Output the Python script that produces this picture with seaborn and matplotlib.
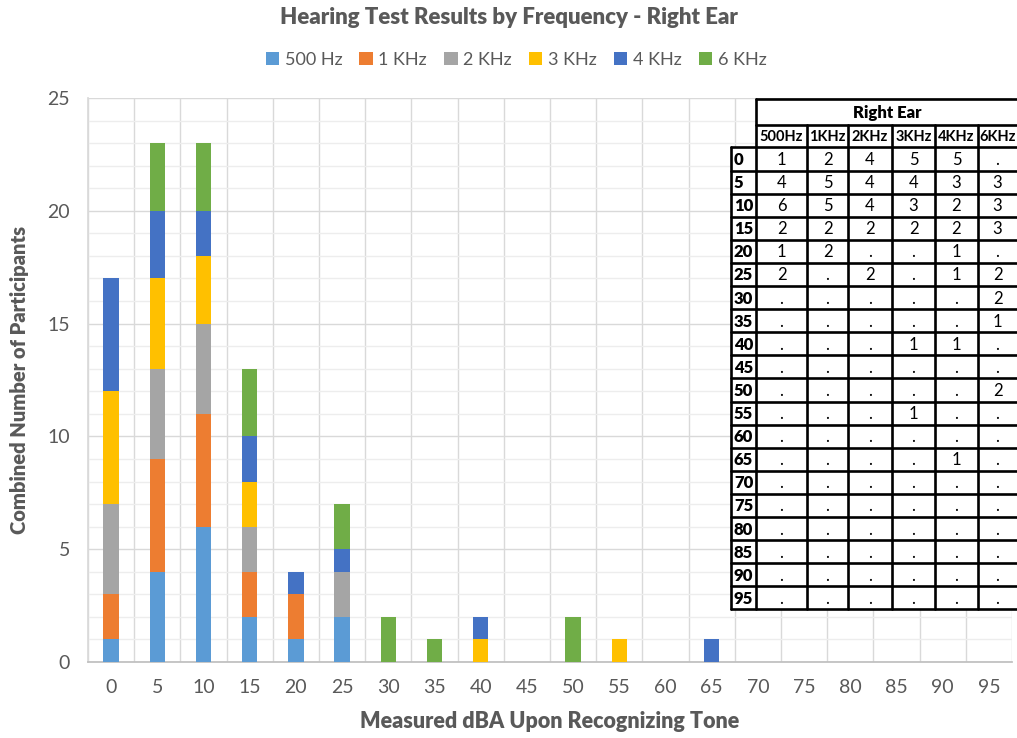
import numpy as np
import pandas as pd
import seaborn as sns
import matplotlib.pyplot as plt
from matplotlib.patches import Patch, Rectangle
from matplotlib.ticker import MultipleLocator, FixedLocator

# Hearing threshold levels (dBA) and participant counts per test frequency
levels = [0, 5, 10, 15, 20, 25, 30, 35, 40, 45, 50, 55, 60, 65, 70, 75, 80, 85, 90, 95]
freq_500hz = [1, 4, 6, 2, 1, 2, 0, 0, 0, 0, 0, 0, 0, 0, 0, 0, 0, 0, 0, 0]
freq_1khz = [2, 5, 5, 2, 2, 0, 0, 0, 0, 0, 0, 0, 0, 0, 0, 0, 0, 0, 0, 0]
freq_2khz = [4, 4, 4, 2, 0, 2, 0, 0, 0, 0, 0, 0, 0, 0, 0, 0, 0, 0, 0, 0]
freq_3khz = [5, 4, 3, 2, 0, 0, 0, 0, 1, 0, 0, 1, 0, 0, 0, 0, 0, 0, 0, 0]
freq_4khz = [5, 3, 2, 2, 1, 1, 0, 0, 1, 0, 0, 0, 0, 1, 0, 0, 0, 0, 0, 0]
freq_6khz = [0, 3, 3, 3, 0, 2, 2, 1, 0, 0, 2, 0, 0, 0, 0, 0, 0, 0, 0, 0]

series_names = ["500 Hz", "1 KHz", "2 KHz", "3 KHz", "4 KHz", "6 KHz"]
table_headers = ["500Hz", "1KHz", "2KHz", "3KHz", "4KHz", "6KHz"]
series_values = [freq_500hz, freq_1khz, freq_2khz, freq_3khz, freq_4khz, freq_6khz]
colors = ["#5B9BD5", "#ED7D31", "#A5A5A5", "#FFC000", "#4472C4", "#70AD47"]

TEXT = "#595959"
BOLD = "heavy"
sns.set_theme(style="white")
plt.rcParams["font.family"] = ["Lato", "DejaVu Sans"]

W, H = 1017, 738
fig = plt.figure(figsize=(W / 100, H / 100), dpi=100)
ax = fig.add_axes([88 / W, 1 - 662 / H, (1012 - 88) / W, (662 - 98) / H])

cats = [str(v) for v in levels]
df = pd.DataFrame({"level": cats})
for name, vals in zip(series_names, series_values):
    df[name] = vals

# Stacked bars: draw cumulative totals from the top series down
cum = df[series_names].cumsum(axis=1)
for name, col in reversed(list(zip(series_names, colors))):
    sns.barplot(x=df["level"], y=cum[name], order=cats, color=col,
                width=0.33, linewidth=0, saturation=1, ax=ax, zorder=3)

ax.set_ylim(0, 25)
ax.set_xlim(-0.5, len(cats) - 0.5)
ax.yaxis.set_major_locator(MultipleLocator(5))
ax.yaxis.set_minor_locator(MultipleLocator(1))
ax.xaxis.set_minor_locator(FixedLocator(np.arange(-0.5, len(cats), 1.0)))
ax.grid(which="minor", axis="y", color="#EDEDED", linewidth=1.0, zorder=0)
ax.grid(which="major", axis="y", color="#D9D9D9", linewidth=1.0, zorder=0)
ax.grid(which="minor", axis="x", color="#D9D9D9", linewidth=1.0, zorder=0)
ax.set_axisbelow(True)
for side in ["top", "right"]:
    ax.spines[side].set_visible(False)
ax.spines["left"].set_color("#D9D9D9")
ax.spines["bottom"].set_color("#BFBFBF")
ax.tick_params(axis="both", which="both", length=0, labelsize=14, colors=TEXT)
ax.tick_params(axis="x", pad=12)
ax.tick_params(axis="y", pad=13)

ax.set_xlabel("Measured dBA Upon Recognizing Tone", fontsize=15.5, fontweight=BOLD,
              color=TEXT, labelpad=11)
ax.set_ylabel("Combined Number of Participants", fontsize=14.5, fontweight=BOLD,
              color=TEXT, labelpad=13)

fig.text(0.5, 1 - 17 / H, "Hearing Test Results by Frequency - Right Ear",
         ha="center", va="center", fontsize=16, fontweight=BOLD, color=TEXT)

handles = [Patch(facecolor=c, edgecolor="none", label=n) for n, c in zip(series_names, colors)]
fig.legend(handles=handles, loc="center", bbox_to_anchor=(516 / W, 1 - 60 / H), ncol=6,
           frameon=False, fontsize=13, handlelength=0.75, handleheight=0.75,
           handletextpad=0.3, columnspacing=0.95, labelcolor=TEXT)

# Summary table drawn on an overlay in pixel coordinates
tab = fig.add_axes([0, 0, 1, 1], zorder=10)
tab.set_xlim(0, W)
tab.set_ylim(H, 0)
tab.axis("off")

col_edges = [756, 807, 848, 892, 935, 978, 1019]
label_left = 731
top = 99
hdr_split = 124.5
body_top = 147.4
row_h = 23.1
body_bottom = body_top + row_h * len(levels)
lw = 1.9
TFS = 12

tab.add_patch(Rectangle((col_edges[0], top), col_edges[-1] - col_edges[0], body_bottom - top,
                        facecolor="white", edgecolor="none"))
tab.add_patch(Rectangle((label_left, body_top), col_edges[0] - label_left, body_bottom - body_top,
                        facecolor="white", edgecolor="none"))

# horizontal rules
tab.plot([col_edges[0], col_edges[-1]], [top, top], color="black", lw=lw)
tab.plot([col_edges[0], col_edges[-1]], [hdr_split, hdr_split], color="black", lw=lw)
for i in range(len(levels) + 1):
    y = body_top + i * row_h
    tab.plot([label_left, col_edges[-1]], [y, y], color="black", lw=lw)
# vertical rules
tab.plot([label_left, label_left], [body_top, body_bottom], color="black", lw=lw)
tab.plot([col_edges[0], col_edges[0]], [top, body_bottom], color="black", lw=lw)
for x in col_edges[1:-1]:
    tab.plot([x, x], [hdr_split, body_bottom], color="black", lw=lw)

tab.text(887, (top + hdr_split) / 2 + 1, "Right Ear",
         ha="center", va="center", fontsize=TFS, fontweight=BOLD, color="black")
for j, hname in enumerate(table_headers):
    cx = (col_edges[j] + min(col_edges[j + 1], 1017)) / 2
    tab.text(cx, (hdr_split + body_top) / 2 + 1, hname, ha="center", va="center",
             fontsize=10.5, fontweight="bold", color="black")

for i, lev in enumerate(levels):
    cy = body_top + (i + 0.5) * row_h + 1
    tab.text(label_left + 3, cy, str(lev), ha="left", va="center",
             fontsize=TFS, fontweight=BOLD, color="black")
    for j, vals in enumerate(series_values):
        cx = (col_edges[j] + min(col_edges[j + 1], 1017)) / 2
        txt = str(vals[i]) if vals[i] else "."
        tab.text(cx, cy, txt, ha="center", va="center", fontsize=TFS, color="black")

fig.savefig("out.png", dpi=100, facecolor="white")
